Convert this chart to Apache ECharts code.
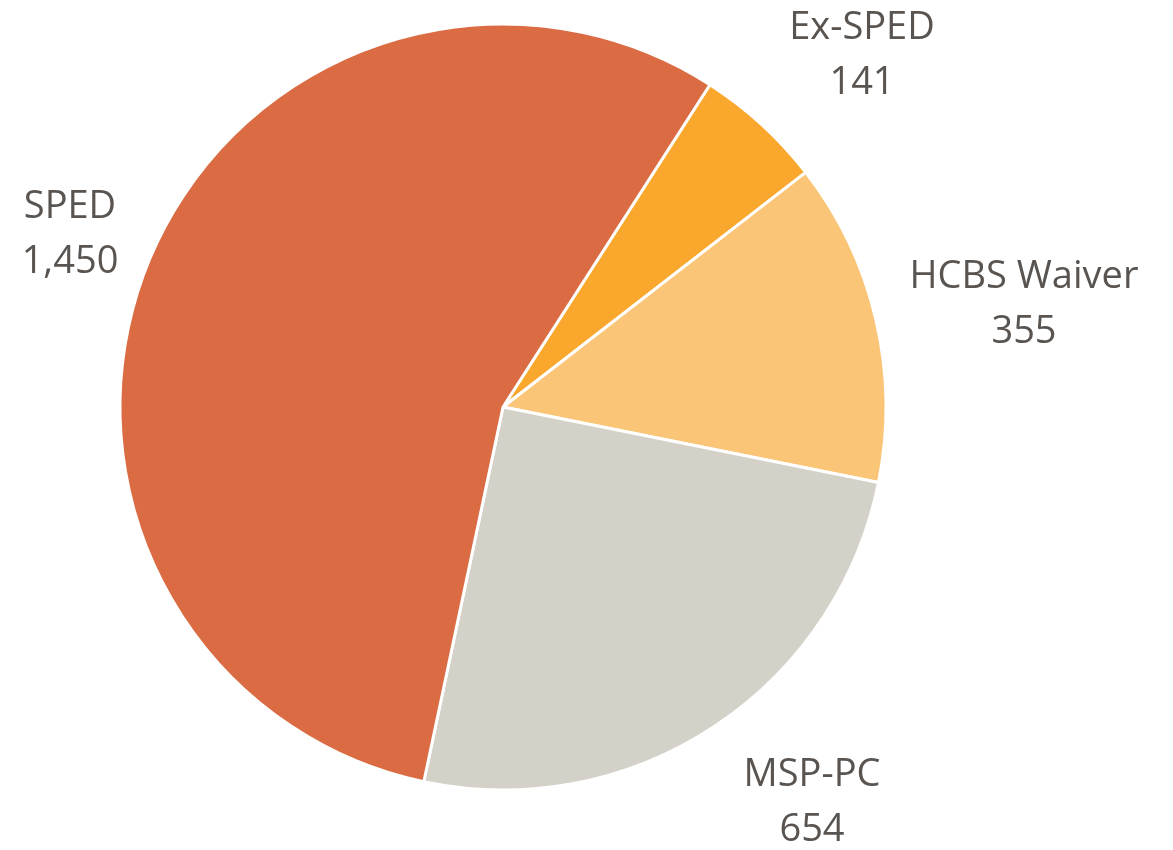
<!DOCTYPE html>
<html>
<head>
<meta charset="utf-8">
<script src="https://cdn.jsdelivr.net/npm/echarts@6/dist/echarts.min.js"></script>
<style>
    html, body { margin: 0; padding: 0; background: #fff; }
    #chart { width: 1173px; height: 850px; }
</style>
</head>
<body>
<div id="chart"></div>
<script>
    // data, clockwise from Ex-SPED
    var categories = ['Ex-SPED', 'HCBS Waiver', 'MSP-PC', 'SPED'];
    var counts = [141, 355, 654, 1450];
    var sliceColors = ['#FAA72E', '#FBC578', '#D4D1C8', '#DA6B43'];

    // where each two-line label sits (label centre)
    var labelPos = [[862, 56], [1024, 305], [812, 803], [70, 235]];

    var chart = echarts.init(document.getElementById('chart'));

    var option = {
        animation: false,
        series: [{
            type: 'pie',
            center: [503, 407],
            radius: 383,
            startAngle: 57.3,
            clockwise: true,
            data: categories.map(function (c, i) {
                return { name: c, value: counts[i], itemStyle: { color: sliceColors[i] } };
            }),
            itemStyle: {
                borderColor: '#fff',
                borderWidth: 3
            },
            label: {
                show: true,
                position: 'outside',
                formatter: function (p) {
                    return p.name + '\n' + p.value.toLocaleString('en-US');
                },
                fontFamily: 'Open Sans',
                fontSize: 38,
                lineHeight: 55,
                color: '#595450',
                align: 'center',
                overflow: 'none'
            },
            labelLine: { show: false },
            labelLayout: function (params) {
                var p = labelPos[params.dataIndex];
                return { x: p[0], y: p[1], align: 'center', verticalAlign: 'middle' };
            }
        }]
    };
    chart.setOption(option);
</script>
</body>
</html>
